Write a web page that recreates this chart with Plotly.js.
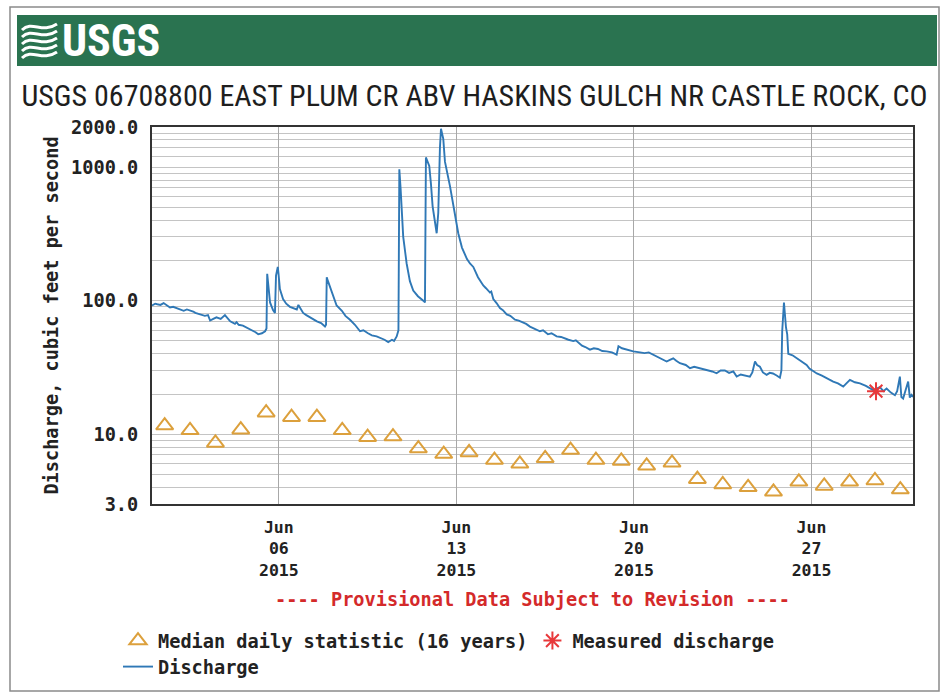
<!DOCTYPE html>
<html>
<head>
<meta charset="utf-8">
<script src="https://cdn.plot.ly/plotly-3.0.1.min.js"></script>
<style>html,body{margin:0;padding:0;background:#fff;}#chart{width:949px;height:694px;}</style>
</head>
<body>
<div id="chart"></div>
<script>
// ---------------- data ----------------
const dischargeTime = [
"2015-06-01 00:00","2015-06-01 03:00","2015-06-01 05:00","2015-06-01 08:00","2015-06-01 11:00","2015-06-01 14:00","2015-06-01 17:00","2015-06-01 20:00","2015-06-01 23:00",
"2015-06-02 03:00","2015-06-02 06:00","2015-06-02 09:00","2015-06-02 12:00","2015-06-02 15:00","2015-06-02 17:00","2015-06-02 21:00",
"2015-06-03 02:00","2015-06-03 05:00","2015-06-03 07:00","2015-06-03 10:00","2015-06-03 13:00","2015-06-03 17:00","2015-06-03 21:00",
"2015-06-04 02:00","2015-06-04 06:30","2015-06-04 08:00","2015-06-04 10:00","2015-06-04 14:00","2015-06-04 17:30","2015-06-04 20:00","2015-06-04 22:30",
"2015-06-05 02:00","2015-06-05 04:30","2015-06-05 08:00","2015-06-05 11:00","2015-06-05 12:20","2015-06-05 13:00","2015-06-05 14:10","2015-06-05 15:40","2015-06-05 18:30","2015-06-05 20:20","2015-06-05 21:20","2015-06-05 23:00","2015-06-05 23:40",
"2015-06-06 01:00","2015-06-06 04:00","2015-06-06 07:00","2015-06-06 10:30","2015-06-06 14:00","2015-06-06 17:00","2015-06-06 18:30","2015-06-06 23:00",
"2015-06-07 02:00","2015-06-07 05:30","2015-06-07 09:00","2015-06-07 12:00","2015-06-07 16:00","2015-06-07 19:40","2015-06-07 20:40","2015-06-07 21:20","2015-06-07 22:30",
"2015-06-08 02:00","2015-06-08 06:40","2015-06-08 11:40","2015-06-08 15:00","2015-06-08 19:20",
"2015-06-09 00:00","2015-06-09 04:50","2015-06-09 08:00","2015-06-09 12:20","2015-06-09 16:00","2015-06-09 20:30",
"2015-06-10 01:40","2015-06-10 04:00","2015-06-10 07:30","2015-06-10 11:00","2015-06-10 13:00","2015-06-10 15:30","2015-06-10 17:10","2015-06-10 18:00","2015-06-10 19:10","2015-06-10 20:10","2015-06-10 21:40",
"2015-06-11 00:55","2015-06-11 04:00","2015-06-11 07:10","2015-06-11 11:35","2015-06-11 16:40","2015-06-11 18:15","2015-06-11 19:10","2015-06-11 22:20","2015-06-11 23:55",
"2015-06-12 01:30","2015-06-12 05:20","2015-06-12 06:50","2015-06-12 08:25","2015-06-12 09:25","2015-06-12 11:35","2015-06-12 13:10","2015-06-12 17:55","2015-06-12 22:40",
"2015-06-13 01:45","2015-06-13 05:15","2015-06-13 08:05","2015-06-13 10:00","2015-06-13 12:50","2015-06-13 16:00","2015-06-13 20:25",
"2015-06-14 01:25","2015-06-14 04:00","2015-06-14 07:45","2015-06-14 09:00","2015-06-14 10:55","2015-06-14 14:00","2015-06-14 17:10","2015-06-14 20:00","2015-06-14 23:35",
"2015-06-15 03:00","2015-06-15 07:25","2015-06-15 11:00","2015-06-15 15:15","2015-06-15 18:00","2015-06-15 21:35",
"2015-06-16 02:00","2015-06-16 07:00","2015-06-16 10:00","2015-06-16 14:35","2015-06-16 18:00","2015-06-16 22:50",
"2015-06-17 03:00","2015-06-17 06:40","2015-06-17 10:00","2015-06-17 14:35","2015-06-17 17:00","2015-06-17 22:50",
"2015-06-18 02:00","2015-06-18 06:20","2015-06-18 10:00","2015-06-18 13:55","2015-06-18 18:00","2015-06-18 22:10",
"2015-06-19 03:10","2015-06-19 07:35","2015-06-19 09:20","2015-06-19 12:40","2015-06-19 17:00","2015-06-19 23:20",
"2015-06-20 05:40","2015-06-20 10:00","2015-06-20 14:00","2015-06-20 18:15","2015-06-20 21:00",
"2015-06-21 00:35","2015-06-21 06:55","2015-06-21 10:00","2015-06-21 13:10","2015-06-21 16:00","2015-06-21 19:30",
"2015-06-22 01:00","2015-06-22 05:00","2015-06-22 09:00","2015-06-22 14:25","2015-06-22 18:00","2015-06-22 22:00",
"2015-06-23 02:00","2015-06-23 06:10","2015-06-23 10:00","2015-06-23 14:00","2015-06-23 18:00","2015-06-23 22:00",
"2015-06-24 01:10","2015-06-24 05:00","2015-06-24 09:00","2015-06-24 13:40","2015-06-24 16:00","2015-06-24 18:30","2015-06-24 20:30","2015-06-24 23:10",
"2015-06-25 02:00","2015-06-25 05:30","2015-06-25 08:30","2015-06-25 11:30","2015-06-25 15:00","2015-06-25 18:05","2015-06-25 19:30","2015-06-25 20:15","2015-06-25 21:55","2015-06-25 22:50","2015-06-25 23:50",
"2015-06-26 01:00","2015-06-26 02:00","2015-06-26 06:00","2015-06-26 09:55","2015-06-26 14:00","2015-06-26 19:20","2015-06-26 22:00",
"2015-06-27 01:35","2015-06-27 05:00","2015-06-27 09:50","2015-06-27 15:00","2015-06-27 20:30",
"2015-06-28 01:00","2015-06-28 06:00","2015-06-28 09:00","2015-06-28 12:20","2015-06-28 17:00","2015-06-28 21:50",
"2015-06-29 03:25","2015-06-29 07:00","2015-06-29 10:20","2015-06-29 16:40","2015-06-29 20:00","2015-06-29 23:00",
"2015-06-30 03:05","2015-06-30 06:55","2015-06-30 09:00","2015-06-30 11:35","2015-06-30 13:00","2015-06-30 14:40","2015-06-30 17:15","2015-06-30 19:25","2015-06-30 21:00","2015-06-30 22:35",
"2015-07-01 00:00"
];
const dischargeCfs = [
92,95,94,93,96,92,89,90,88,
86,84,86,85,83,81,79,
77,78,71,73,75,73,78,
70,67,69,66,65,63,61,60,
58,56,57,59,62,159,130,97,85,81,154,179,160,
122,103,95,90,88,86,93,81,
78,75,72,70,68,64,66,150,140,
115,92,84,77,72,
66,59,60,57,55,54,
52,51,49,51,50,54,60,966,700,509,302,
190,140,119,108,100,97,1183,1023,750,
509,320,454,1400,1940,1630,1100,721,420,
320,250,219,205,190,179,150,
130,124,115,117,103,96,88,85,79,
77,72,71,68.5,67,64,
62,59,60,56,57,54,
53.5,52,51,49.8,50.5,46,
45,43,44,43.5,42,41.7,
41,39.4,45.6,44,43,41.7,
41,40.5,41,39.4,38.5,
37,35,36,37,35.5,34,
33,31.2,32,31.2,30.5,30,
29.5,28.6,30,30,28.8,29.5,
27,28,27.5,27,29,35,33,32,
29,27.8,28.8,28.5,27.5,26.5,30,59,97,75,63,
56,40,39,37,35,33,31,
29.5,28.5,27.5,26,24.8,
24,22.7,24,25.5,24.5,24,
23,22,21.4,22.5,21,22,
20.5,19.6,21,27,19,18.5,22,24.8,18.8,19.7,
19
];

const medianDates = [
"2015-06-01 12:00","2015-06-02 12:00","2015-06-03 12:00","2015-06-04 12:00","2015-06-05 12:00",
"2015-06-06 12:00","2015-06-07 12:00","2015-06-08 12:00","2015-06-09 12:00","2015-06-10 12:00",
"2015-06-11 12:00","2015-06-12 12:00","2015-06-13 12:00","2015-06-14 12:00","2015-06-15 12:00",
"2015-06-16 12:00","2015-06-17 12:00","2015-06-18 12:00","2015-06-19 12:00","2015-06-20 12:00",
"2015-06-21 12:00","2015-06-22 12:00","2015-06-23 12:00","2015-06-24 12:00","2015-06-25 12:00",
"2015-06-26 12:00","2015-06-27 12:00","2015-06-28 12:00","2015-06-29 12:00","2015-06-30 12:00"
];
const medianCfs = [11.6,10.7,8.6,10.8,14.5,13.4,13.4,10.7,9.5,9.6,7.8,7.1,7.3,6.4,6.0,6.6,7.6,6.4,6.3,5.8,6.1,4.6,4.2,4.0,3.7,4.4,4.1,4.4,4.5,3.85];

const measuredTime = ["2015-06-29 13:00"];
const measuredCfs = [21];

const xTickVals = ["2015-06-06","2015-06-13","2015-06-20","2015-06-27"];
const xTickText = ["Jun<br>06<br>2015","Jun<br>13<br>2015","Jun<br>20<br>2015","Jun<br>27<br>2015"];
const yTickVals = [3,10,100,1000,2000];
const yTickText = ["3.0","10.0","100.0","1000.0","2000.0"];
const yMinorVals = [4,5,6,7,8,9,20,30,40,50,60,70,80,90,200,300,400,500,600,700,800,900,1200,1400,1600,1800];

const titleText = "USGS 06708800 EAST PLUM CR ABV HASKINS GULCH NR CASTLE ROCK, CO";
const noteText = "---- Provisional Data Subject to Revision ----";

// ---------------- layout helpers ----------------
const W = 949, H = 694;
const L = 152, R = 913, T = 127, B = 504;
const px = X => (X - L) / (R - L);
const py = Y => (B - Y) / (B - T);
const monoFam = "DejaVu Sans Mono, Liberation Mono, monospace";
const mono = {family: monoFam, size: 18.6, color: "#222", weight: "bold"};
const monoX = {family: monoFam, size: 16.5, color: "#222", weight: "bold"};

// wave icon paths
const waves = [];
for (let i = 0; i < 5; i++) {
  const y0 = 24 + i * 7;
  const d = `M ${px(22)},${py(y0 + 6)} C ${px(32)},${py(y0 - 4)} ${px(42)},${py(y0 + 10)} ${px(57)},${py(y0)}`;
  waves.push({type: "path", xref: "paper", yref: "paper", path: d, line: {color: "#ffffff", width: 3}});
}

const shapes = [
  {type: "rect", xref: "paper", yref: "paper", x0: px(10), x1: px(939), y0: py(7), y1: py(691), line: {color: "#8a8a8a", width: 1.5}, fillcolor: "rgba(0,0,0,0)", layer: "below"},
  {type: "rect", xref: "paper", yref: "paper", x0: px(17), x1: px(937), y0: py(15), y1: py(66), line: {width: 0}, fillcolor: "#2a7350", layer: "below"},
  ...waves
];

const traces = [
  {x: dischargeTime, y: dischargeCfs, type: "scatter", mode: "lines", name: "Discharge",
   line: {color: "#2f78b6", width: 1.9}, legend: "legend2"},
  {x: medianDates, y: medianCfs, type: "scatter", mode: "markers", name: "Median daily statistic (16 years)",
   marker: {symbol: "triangle-up-open", size: 15, color: "#dca03c", line: {width: 2, color: "#dca03c"}}, legend: "legend"},
  {x: measuredTime, y: measuredCfs, type: "scatter", mode: "markers", name: "Measured discharge",
   marker: {symbol: "asterisk-open", size: 15, color: "#e8383a", line: {width: 2, color: "#e8383a"}}, legend: "legend"}
];

const layout = {
  width: W, height: H,
  margin: {l: L, r: W - R, t: T, b: H - B, pad: 0, autoexpand: false},
  paper_bgcolor: "#ffffff", plot_bgcolor: "#ffffff",
  title: {text: titleText, x: 0.5, xref: "container", xanchor: "center", y: 1 - 95 / H, yref: "container", yanchor: "middle",
          font: {family: "Liberation Sans Narrow, Roboto Condensed, Arial Narrow, sans-serif", size: 30, color: "#1e1e1e"}},
  xaxis: {type: "date", range: ["2015-06-01", "2015-07-01"], tickmode: "array", tickvals: xTickVals, ticktext: xTickText,
          showgrid: true, gridcolor: "#a8a8a8", gridwidth: 1, showline: true, mirror: true, linecolor: "#333", linewidth: 2,
          ticks: "", ticklabelstandoff: 7, tickfont: monoX, zeroline: false, fixedrange: true, automargin: false},
  yaxis: {type: "log", range: [Math.log10(3), Math.log10(2000)], tickmode: "array", tickvals: yTickVals, ticktext: yTickText,
          showgrid: true, gridcolor: "#c4c4c4", gridwidth: 1, showline: true, mirror: true, linecolor: "#333", linewidth: 2,
          minor: {tickmode: "array", tickvals: yMinorVals, showgrid: true, gridcolor: "#c4c4c4", gridwidth: 1, ticks: ""},
          ticks: "", ticklabelstandoff: 8, tickfont: mono, zeroline: false, fixedrange: true, automargin: false,
          title: {text: "Discharge, cubic feet per second", font: mono, standoff: 8}},
  showlegend: true,
  legend: {orientation: "h", x: px(118), xanchor: "left", y: py(622), yanchor: "top", font: mono, bgcolor: "rgba(0,0,0,0)",
           traceorder: "normal", itemwidth: 30, tracegroupgap: 0},
  legend2: {orientation: "h", x: px(118), xanchor: "left", y: py(648), yanchor: "top", font: mono, bgcolor: "rgba(0,0,0,0)", itemwidth: 30},
  shapes: shapes,
  annotations: [
    {text: "USGS", xref: "paper", yref: "paper", x: px(60), y: py(41), xanchor: "left", yanchor: "middle", showarrow: false,
     font: {family: "Liberation Sans Narrow, Roboto Condensed, Arial Narrow, sans-serif", size: 44, color: "#ffffff", weight: "bold"}},
    {text: noteText, xref: "paper", yref: "paper", x: 0.5, y: py(599), xanchor: "center", yanchor: "middle", showarrow: false,
     font: {family: monoFam, size: 18.6, color: "#d42a2a", weight: "bold"}}
  ]
};

Plotly.newPlot("chart", traces, layout, {staticPlot: true, displayModeBar: false});
</script>
</body>
</html>
